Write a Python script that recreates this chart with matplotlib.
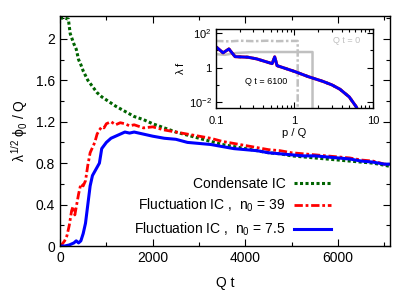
import matplotlib
matplotlib.use('Agg')
import matplotlib.pyplot as plt
from matplotlib.ticker import MultipleLocator, FixedLocator, NullFormatter

plt.rcParams.update({
    'font.family': ['Liberation Sans', 'DejaVu Sans'],
    'font.size': 10,
    'mathtext.fontset': 'custom',
    'mathtext.rm': 'Liberation Sans',
    'mathtext.it': 'Liberation Sans',
})

# main panel: rescaled condensate vs Q t
t_cond = [0, 100, 180, 220, 260, 300, 350, 400, 450, 500, 600, 700, 800, 900, 1000,
          1200, 1400, 1600, 1800, 2000, 2250, 2500, 2750, 3000, 3250, 3500, 3750,
          4000, 4250, 4500, 4750, 5000, 5250, 5500, 5750, 6000, 6250, 6500, 6750, 7000, 7100]
phi_cond = [2.2, 2.2, 2.19, 2.05, 2.0, 1.95, 1.9, 1.8, 1.75, 1.69, 1.6, 1.54, 1.48, 1.44, 1.41,
            1.35, 1.3, 1.25, 1.22, 1.18, 1.14, 1.1, 1.07, 1.04, 1.01, 0.98, 0.96,
            0.94, 0.92, 0.9, 0.89, 0.87, 0.86, 0.85, 0.84, 0.83, 0.82, 0.81, 0.8, 0.78, 0.77]

t_fl39 = [0, 50, 100, 150, 200, 250, 280, 320, 360, 400, 450, 500, 550, 600, 650, 700,
          750, 800, 850, 900, 950, 1000, 1100, 1200, 1300, 1400, 1500, 1600, 1800, 2000,
          2250, 2500, 2750, 3000, 3250, 3500, 3750, 4000, 4250, 4500, 4750, 5000, 5250,
          5500, 5750, 6000, 6250, 6500, 6750, 7000, 7100]
phi_fl39 = [0, 0.02, 0.05, 0.1, 0.2, 0.34, 0.38, 0.3, 0.4, 0.5, 0.6, 0.58, 0.63, 0.78, 0.9, 0.95,
            1.0, 1.08, 1.12, 1.15, 1.14, 1.18, 1.2, 1.17, 1.19, 1.18, 1.16, 1.17, 1.14, 1.15,
            1.12, 1.1, 1.08, 1.06, 1.04, 1.01, 0.99, 0.97, 0.95, 0.93, 0.92, 0.9, 0.89,
            0.88, 0.87, 0.86, 0.85, 0.83, 0.82, 0.79, 0.79]

t_fl75 = [0, 100, 200, 300, 350, 400, 450, 500, 550, 600, 650, 700, 750, 800, 850, 900,
          950, 1000, 1100, 1200, 1300, 1400, 1500, 1600, 1800, 2000, 2250, 2500, 2750,
          3000, 3250, 3500, 3750, 4000, 4250, 4500, 4750, 5000, 5250, 5500, 5750, 6000,
          6250, 6500, 6750, 7000, 7100]
phi_fl75 = [0, 0, 0.01, 0.03, 0.05, 0.03, 0.05, 0.12, 0.22, 0.4, 0.58, 0.68, 0.72, 0.76, 0.8, 0.94,
            0.97, 1.0, 1.04, 1.06, 1.08, 1.1, 1.09, 1.1, 1.08, 1.06, 1.04, 1.03, 1.0,
            0.99, 0.98, 0.96, 0.94, 0.93, 0.92, 0.9, 0.89, 0.88, 0.87, 0.87, 0.86, 0.85,
            0.84, 0.82, 0.81, 0.79, 0.79]

# inset: occupation spectra
p_init39 = [0.1, 0.15, 0.2, 0.3, 0.45, 0.6, 0.8, 1.1, 1.1]
f_init39 = [35, 33, 36, 34, 36, 34, 35, 35, 1e-4]
p_init75 = [0.1, 0.13, 0.18, 0.3, 0.5, 0.8, 1.2, 1.7, 1.7]
f_init75 = [6, 5.5, 7, 8, 8, 8, 8, 8, 1e-4]
p_late = [0.1, 0.123, 0.146, 0.175, 0.255, 0.33, 0.52, 0.56, 0.6, 1.0, 1.5, 2.3, 3.0, 3.8, 5.0, 6.2, 6.6]
f_late = [16, 7.2, 12, 4.3, 4.0, 3.2, 1.7, 4.2, 1.3, 0.6, 0.3, 0.16, 0.1, 0.056, 0.02, 0.005, 0.002]

fig = plt.figure(figsize=(4.15, 2.91), dpi=100)
ax = fig.add_axes([0.1446, 0.1546, 0.7952, 0.7904])

ax.plot(t_cond, phi_cond, color='#006400', lw=2.2, ls=(0, (1, 0.8)), label='Condensate IC')
ax.plot(t_fl39, phi_fl39, color='#ff0000', lw=2.0, ls=(0, (3, 1, 1, 1)),
        label='Fluctuation IC ,  n$_0$ = 39')
ax.plot(t_fl75, phi_fl75, color='#0000ff', lw=2.2, ls='-',
        label='Fluctuation IC ,  n$_0$ = 7.5')

ax.set_xlim(0, 7120)
ax.set_ylim(0, 2.22)
ax.xaxis.set_major_locator(MultipleLocator(2000))
ax.xaxis.set_minor_locator(MultipleLocator(1000))
ax.yaxis.set_major_locator(FixedLocator([0, 0.4, 0.8, 1.2, 1.6, 2.0]))
ax.yaxis.set_minor_locator(MultipleLocator(0.2))
ax.set_yticklabels(['0', '0.4', '0.8', '1.2', '1.6', '2'])
ax.tick_params(which='both', direction='in', top=True, right=True, width=0.8)
ax.tick_params(which='major', length=5, labelsize=10)
ax.tick_params(which='minor', length=3)
for s in ax.spines.values():
    s.set_linewidth(1.0)
ax.set_xlabel('Q t', fontsize=10, labelpad=8)
ax.set_ylabel(r'$\lambda^{1/2}\ \phi_0\ /\ $Q', fontsize=10, labelpad=4)

leg = ax.legend(loc='lower right', bbox_to_anchor=(0.86, -0.02), markerfirst=False,
                frameon=False, fontsize=10, handlelength=2.7, handletextpad=0.6,
                labelspacing=0.45)
for txt in leg.get_texts():
    txt.set_ha('right')
leg._legend_box.align = 'right'

# inset
ins = fig.add_axes([0.5205, 0.629, 0.378, 0.271])
ins.plot(p_init39, f_init39, color='#c0c0c0', lw=1.8, ls=(0, (3, 1, 1, 1)))
ins.plot(p_init75, f_init75, color='#c0c0c0', lw=1.8)
ins.plot(p_late, f_late, color='#006400', lw=2.0, ls=':')
ins.plot(p_late, f_late, color='#ff0000', lw=2.2)
ins.plot(p_late, f_late, color='#0000ff', lw=2.0)
ins.set_xscale('log')
ins.set_yscale('log')
ins.set_xlim(0.1, 10)
ins.set_ylim(0.0046, 170)
ins.xaxis.set_major_locator(FixedLocator([0.1, 1, 10]))
ins.set_xticklabels(['0.1', '1', '10'])
ins.xaxis.set_minor_formatter(NullFormatter())
ins.yaxis.set_major_locator(FixedLocator([1e-2, 1, 1e2]))
ins.set_yticklabels(['10$^{-2}$', '1', '10$^{2}$'])
ins.yaxis.set_minor_locator(FixedLocator([1e-1, 10]))
ins.yaxis.set_minor_formatter(NullFormatter())
ins.tick_params(which='both', direction='in', top=True, right=True, width=0.8, labelsize=8, pad=3)
ins.tick_params(axis='x', which='major', pad=6)
ins.tick_params(which='major', length=4)
ins.tick_params(which='minor', length=2.5)
for s in ins.spines.values():
    s.set_linewidth(1.0)
ins.set_xlabel('p / Q', fontsize=8, labelpad=1)
ins.set_ylabel(r'$\lambda$ f', fontsize=8, labelpad=2)
ins.text(0.83, 0.82, 'Q t = 0', transform=ins.transAxes, fontsize=6.5, color='#c0c0c0', ha='center')
ins.text(0.32, 0.3, 'Q t = 6100', transform=ins.transAxes, fontsize=6.5, color='black', ha='center')

fig.savefig('out.png', dpi=100)
